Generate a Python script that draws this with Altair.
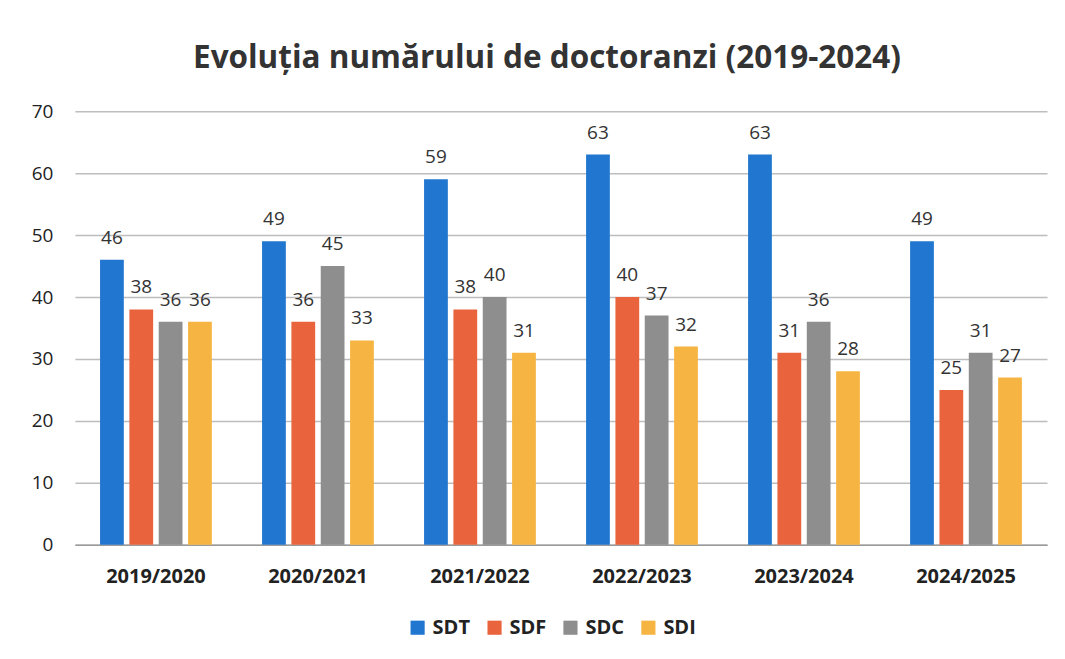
import altair as alt
import pandas as pd

years = ["2019/2020", "2020/2021", "2021/2022", "2022/2023", "2023/2024", "2024/2025"]
series = ["SDT", "SDF", "SDC", "SDI"]
sdt = [46, 49, 59, 63, 63, 49]
sdf = [38, 36, 38, 40, 31, 25]
sdc = [36, 45, 40, 37, 36, 31]
sdi = [36, 33, 31, 32, 28, 27]
colors = ["#2176cf", "#e9633d", "#8e8e8e", "#f6b542"]

rows = []
for s, vals in zip(series, [sdt, sdf, sdc, sdi]):
    for y, v in zip(years, vals):
        rows.append({"An": y, "Serie": s, "Valoare": v})
df = pd.DataFrame(rows)

FONT = "Open Sans"

x = alt.X("An:N", sort=years, title=None,
          scale=alt.Scale(paddingInner=0.31, paddingOuter=0.155),
          axis=alt.Axis(labelAngle=0, labelFontSize=20, labelFontWeight="bold",
                        labelColor="#222", labelFont=FONT, ticks=False,
                        domainColor="#9a9a9a", domainWidth=1.5, labelPadding=22))
xo = alt.XOffset("Serie:N", sort=series, scale=alt.Scale(paddingInner=0.19, paddingOuter=0))
y = alt.Y("Valoare:Q", title=None,
          scale=alt.Scale(domain=[0, 70]),
          axis=alt.Axis(values=[0, 10, 20, 30, 40, 50, 60, 70], labelFontSize=19,
                        labelFont=FONT, labelColor="#222", domain=False, ticks=False,
                        gridColor="#bdbdbd", gridWidth=1.5, labelPadding=22))

base = alt.Chart(df).encode(x=x, xOffset=xo, y=y)

bars = base.mark_bar().encode(
    color=alt.Color("Serie:N", sort=series,
                    scale=alt.Scale(domain=series, range=colors),
                    legend=alt.Legend(title=None, orient="none", direction="horizontal",
                                      legendX=333, legendY=507,
                                      symbolType="square", symbolSize=200,
                                      symbolStrokeWidth=0,
                                      labelFontSize=20, labelFontWeight="bold",
                                      labelFont=FONT, labelColor="#222",
                                      columnPadding=14, labelOffset=5))
)

labels = base.mark_text(dy=-22, fontSize=19, font=FONT, color="#333").encode(
    text="Valoare:Q")

chart = (bars + labels).properties(
    width=973, height=434,
    background="white",
    title=alt.TitleParams("Evoluția numărului de doctoranzi (2019-2024)",
                          fontSize=31.5, fontWeight="bold", font=FONT,
                          color="#333", offset=28, anchor="middle", dx=-14),
    autosize=alt.AutoSizeParams(type="none"),
    padding={"left": 67, "top": 103, "right": 10, "bottom": 100},
).configure_view(stroke=None)

chart.save("out.html", embed_options={"renderer": "svg", "actions": False})
